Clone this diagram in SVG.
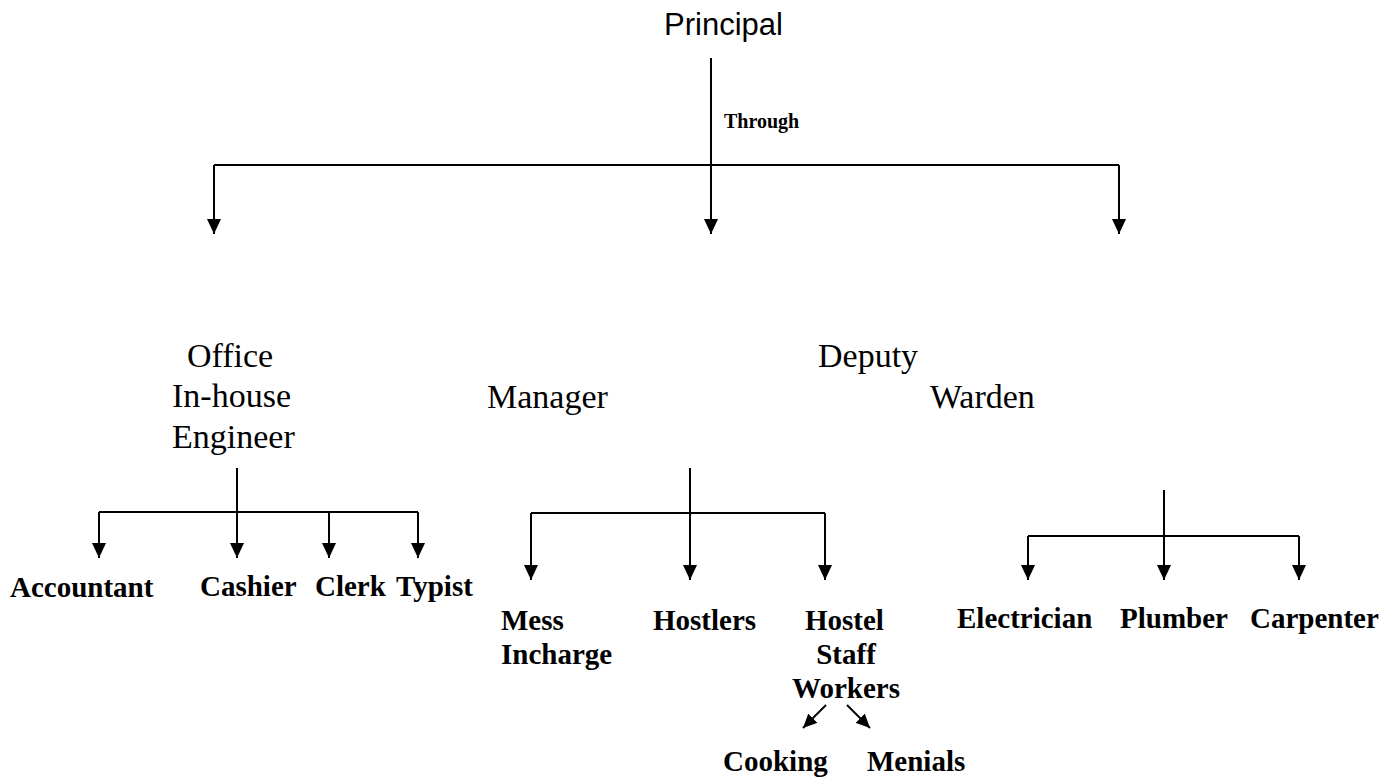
<svg xmlns="http://www.w3.org/2000/svg" width="1399" height="780" viewBox="0 0 1399 780">
<defs>
<marker id="ah" viewBox="0 0 15 14" refX="15" refY="7" markerWidth="15" markerHeight="14" markerUnits="userSpaceOnUse" orient="auto">
<path d="M0,0 L15,7 L0,14 z" fill="#000"/>
</marker>
<marker id="ahs" viewBox="0 0 14 13" refX="14" refY="6.5" markerWidth="14" markerHeight="13" markerUnits="userSpaceOnUse" orient="auto">
<path d="M0,0 L14,6.5 L0,13 z" fill="#000"/>
</marker>
<style>
.ln{stroke:#000;stroke-width:2;fill:none}
.ar{stroke:#000;stroke-width:2;fill:none;marker-end:url(#ah)}
.ars{stroke:#000;stroke-width:2;fill:none;marker-end:url(#ahs)}
.sans{font-family:"Liberation Sans",Arial,sans-serif;font-size:31px;fill:#000}
.mid{font-family:"Liberation Serif","Times New Roman",serif;font-size:34px;fill:#000}
.bold{font-family:"Liberation Serif","Times New Roman",serif;font-size:29px;font-weight:bold;fill:#000}
.small{font-family:"Liberation Serif","Times New Roman",serif;font-size:20px;font-weight:bold;fill:#000}
</style>
</defs>
<rect width="1399" height="780" fill="#fff"/>
<g id="connectors">
<line class="ln" x1="711" y1="58" x2="711" y2="165"/>
<line class="ln" x1="214" y1="165" x2="1119" y2="165"/>
<line class="ar" x1="214" y1="165" x2="214" y2="234"/>
<line class="ar" x1="711" y1="165" x2="711" y2="234"/>
<line class="ar" x1="1119" y1="165" x2="1119" y2="234"/>
<line class="ln" x1="237" y1="468" x2="237" y2="512"/>
<line class="ln" x1="99" y1="512" x2="418" y2="512"/>
<line class="ar" x1="99" y1="512" x2="99" y2="558"/>
<line class="ar" x1="237" y1="512" x2="237" y2="558"/>
<line class="ar" x1="329" y1="512" x2="329" y2="558"/>
<line class="ar" x1="418" y1="512" x2="418" y2="558"/>
<line class="ln" x1="690" y1="468" x2="690" y2="513"/>
<line class="ln" x1="531" y1="513" x2="825" y2="513"/>
<line class="ar" x1="531" y1="513" x2="531" y2="580"/>
<line class="ar" x1="690" y1="513" x2="690" y2="580"/>
<line class="ar" x1="825" y1="513" x2="825" y2="580"/>
<line class="ln" x1="1164" y1="490" x2="1164" y2="536"/>
<line class="ln" x1="1028" y1="536" x2="1299" y2="536"/>
<line class="ar" x1="1028" y1="536" x2="1028" y2="580"/>
<line class="ar" x1="1164" y1="536" x2="1164" y2="580"/>
<line class="ar" x1="1299" y1="536" x2="1299" y2="580"/>
<line class="ars" x1="826" y1="705" x2="803" y2="728"/>
<line class="ars" x1="847" y1="705" x2="870" y2="728"/>
<text class="small" x="724" y="128">Through</text>
</g>
<g id="principal"><text class="sans" x="664" y="35">Principal</text></g>
<g id="office"><text class="mid" x="187" y="367">Office</text><text class="mid" x="172" y="407">In-house</text><text class="mid" x="172" y="448">Engineer</text></g>
<g id="manager"><text class="mid" x="487" y="408">Manager</text></g>
<g id="deputy"><text class="mid" x="818" y="367">Deputy</text></g>
<g id="warden"><text class="mid" x="930" y="408">Warden</text></g>
<g id="accountant"><text class="bold" x="10" y="597">Accountant</text></g>
<g id="cashier"><text class="bold" x="200" y="596">Cashier</text></g>
<g id="clerk"><text class="bold" x="315" y="596">Clerk</text></g>
<g id="typist"><text class="bold" x="396" y="596">Typist</text></g>
<g id="mess"><text class="bold" x="501" y="630">Mess</text><text class="bold" x="501" y="664">Incharge</text></g>
<g id="hostlers"><text class="bold" x="653" y="630">Hostlers</text></g>
<g id="hostel"><text class="bold" x="805" y="630">Hostel</text><text class="bold" x="846" y="664" text-anchor="middle">Staff</text><text class="bold" x="846" y="698" text-anchor="middle">Workers</text></g>
<g id="cooking"><text class="bold" x="723" y="771">Cooking</text></g>
<g id="menials"><text class="bold" x="867" y="771">Menials</text></g>
<g id="electrician"><text class="bold" x="957" y="628">Electrician</text></g>
<g id="plumber"><text class="bold" x="1120" y="628">Plumber</text></g>
<g id="carpenter"><text class="bold" x="1250" y="628">Carpenter</text></g>
</svg>
